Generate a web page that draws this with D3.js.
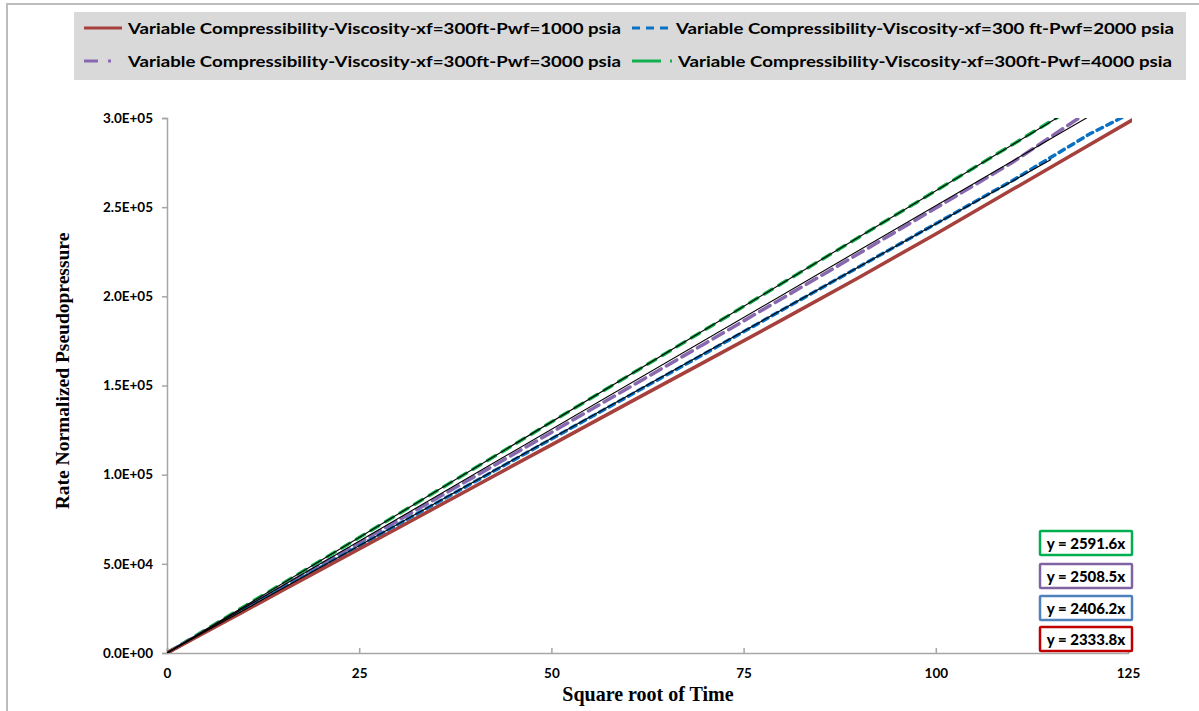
<!DOCTYPE html>
<html>
<head>
<meta charset="utf-8">
<script src="https://cdn.jsdelivr.net/npm/d3@7"></script>
<style>
  body { margin: 0; background: #fff; }
  svg { display: block; }
</style>
</head>
<body>
<div id="chart-container"></div>
<script>
// Square root of time sample points, shared by all series
const sqrtTime = [0, 2, 5, 10, 15, 20, 25, 30, 40, 50, 60, 70, 80, 90, 100, 110, 120, 130];

// Rate normalized pseudopressure, one array per bottomhole pressure
const pwf1000 = [0, 4600, 11600, 23300, 35000, 46700, 58300, 70000, 93400, 116700, 140100, 163400, 186800, 210600, 235000, 260000, 285000, 310000];
const pwf2000 = [0, 4800, 12000, 24000, 36000, 48000, 60000, 72000, 96000, 120000, 144000, 168000, 192300, 216500, 240700, 265000, 291000, 313000];
const pwf3000 = [0, 5000, 12400, 24800, 37200, 49500, 61800, 74200, 98900, 123700, 148600, 173600, 198800, 224000, 249500, 275200, 304000, 329000];
const pwf4000 = [0, 5200, 13000, 26000, 38900, 51800, 64700, 77700, 103600, 129500, 155400, 181300, 207300, 233200, 259200, 285200, 311300, 337000];

const seriesNames = [
    "Variable Compressibility-Viscosity-xf=300ft-Pwf=1000 psia",
    "Variable Compressibility-Viscosity-xf=300 ft-Pwf=2000 psia",
    "Variable Compressibility-Viscosity-xf=300ft-Pwf=3000 psia",
    "Variable Compressibility-Viscosity-xf=300ft-Pwf=4000 psia"
];

// Trendline slopes (through origin) and the x where each trendline stops
const trendSlopes = [2333.8, 2406.2, 2508.5, 2591.6];
const trendEnd = [null, 115, 122, 120];

const xTicks = [0, 25, 50, 75, 100, 125];
const yTicks = [0, 50000, 100000, 150000, 200000, 250000, 300000];

const colors = ["#a5403c", "#0a72c4", "#8868ae", "#12b04e"];
const boxColors = ["#c00000", "#4f81bd", "#8064a2", "#00b050"];
const dashes = [null, "6,5", "12,6", "9,8"];

const W = 1199, H = 711;
const margin = { left: 167, right: W - 1128, top: 118, bottom: H - 653 };

const svg = d3.select("#chart-container")
    .append("svg")
    .attr("width", W)
    .attr("height", H);

// outer frame lines
svg.append("path")
    .attr("d", `M7,711 L7,4 L1199,4`)
    .attr("fill", "none")
    .attr("stroke", "#bdbdbd")
    .attr("stroke-width", 2);

const x = d3.scaleLinear().domain([0, 125]).range([margin.left, W - margin.right]);
const y = d3.scaleLinear().domain([0, 300000]).range([H - margin.bottom, margin.top]);

svg.append("clipPath").attr("id", "plot-clip")
    .append("rect")
    .attr("x", x(0)).attr("y", y(300000))
    .attr("width", x(125) - x(0) + 4).attr("height", y(0) - y(300000));

// axes
const yAxis = svg.append("g")
    .attr("transform", `translate(${x(0)},0)`)
    .call(d3.axisLeft(y).tickValues(yTicks).tickSize(5).tickPadding(9)
        .tickFormat(d => d.toExponential(1).replace("e+", "E+0")));

const xAxis = svg.append("g")
    .attr("transform", `translate(0,${y(0)})`)
    .call(d3.axisBottom(x).tickValues(xTicks).tickSize(-5).tickPadding(14));

[xAxis, yAxis].forEach(g => {
    g.select(".domain").attr("stroke", "#a6a6a6").attr("stroke-width", 1.5);
    g.selectAll(".tick line").attr("stroke", "#a6a6a6").attr("stroke-width", 1.5);
    g.selectAll("text")
        .attr("font-family", "Lato, 'Open Sans', sans-serif")
        .attr("font-weight", "bold")
        .attr("font-size", 13.5)
        .attr("fill", "#000");
});
xAxis.selectAll(".tick text").attr("dy", "0.85em");

// series lines
const plot = svg.append("g").attr("clip-path", "url(#plot-clip)");
const allSeries = [pwf1000, pwf2000, pwf3000, pwf4000];

const line = d3.line()
    .x(d => x(d[0]))
    .y(d => y(d[1]));

[3, 2, 1, 0].forEach(i => {
    const pts = sqrtTime.map((t, k) => [t, allSeries[i][k]]);
    plot.append("path")
        .datum(pts)
        .attr("fill", "none")
        .attr("stroke", colors[i])
        .attr("stroke-width", 3.5)
        .attr("stroke-dasharray", dashes[i])
        .attr("stroke-linecap", i === 0 ? "butt" : "round")
        .attr("d", line);
});

// black trendlines
[1, 2, 3].forEach(i => {
    const pts = [[0, 0], [trendEnd[i], trendSlopes[i] * trendEnd[i]]];
    plot.append("path")
        .datum(pts)
        .attr("fill", "none")
        .attr("stroke", "#000")
        .attr("stroke-width", 1.1)
        .attr("d", line);
});

// trendline equation boxes
const boxOrder = [3, 2, 1, 0];
const boxTops = [531, 564, 596, 627];
boxOrder.forEach((i, k) => {
    const g = svg.append("g").attr("transform", `translate(1040,${boxTops[k]})`);
    g.append("rect")
        .attr("width", 92).attr("height", 24)
        .attr("fill", "#fff")
        .attr("stroke", boxColors[i])
        .attr("stroke-width", 2.5)
        .attr("rx", 1);
    g.append("text")
        .attr("x", 46).attr("y", 17.5)
        .attr("text-anchor", "middle")
        .attr("font-family", "Lato, 'Open Sans', sans-serif")
        .attr("font-weight", "900")
        .attr("font-size", 15)
        .text(`y = ${trendSlopes[i].toFixed(1)}x`);
});

// axis titles
svg.append("text")
    .attr("x", 648).attr("y", 701)
    .attr("text-anchor", "middle")
    .attr("font-family", "'Liberation Serif', 'Times New Roman', serif")
    .attr("font-weight", "bold")
    .attr("font-size", 20)
    .text("Square root of Time");

svg.append("text")
    .attr("transform", `translate(69,371) rotate(-90)`)
    .attr("text-anchor", "middle")
    .attr("font-family", "'Liberation Serif', 'Times New Roman', serif")
    .attr("font-weight", "bold")
    .attr("font-size", 19.5)
    .text("Rate Normalized Pseudopressure");

// legend
const legend = svg.append("g");
legend.append("rect")
    .attr("x", 74).attr("y", 12)
    .attr("width", 1112).attr("height", 68)
    .attr("fill", "#d9d9d9");

const legendPos = [[84, 28], [632, 28], [84, 61], [632, 61]];
const legendOrder = [0, 1, 2, 3];
legendOrder.forEach((i, k) => {
    const [lx, ly] = legendPos[k];
    const g = legend.append("g").attr("transform", `translate(${lx},${ly})`);
    if (i === 0) {
        g.append("line").attr("x1", 0).attr("x2", 38)
            .attr("stroke", colors[0]).attr("stroke-width", 3);
    } else if (i === 1) {
        g.append("line").attr("x1", 0).attr("x2", 37)
            .attr("stroke", colors[1]).attr("stroke-width", 3)
            .attr("stroke-dasharray", "8,6");
    } else if (i === 2) {
        g.append("line").attr("x1", 0).attr("x2", 14)
            .attr("stroke", colors[2]).attr("stroke-width", 3);
        g.append("line").attr("x1", 24).attr("x2", 27)
            .attr("stroke", colors[2]).attr("stroke-width", 3);
    } else {
        g.append("line").attr("x1", 0).attr("x2", 29)
            .attr("stroke", colors[3]).attr("stroke-width", 3);
        g.append("line").attr("x1", 38).attr("x2", 40)
            .attr("stroke", colors[3]).attr("stroke-width", 3);
    }
    g.append("text")
        .attr("x", i === 3 ? 46 : 44).attr("y", 6)
        .attr("font-family", "Lato, 'Open Sans', sans-serif")
        .attr("font-weight", "bold")
        .attr("font-size", 16)
        .attr("textLength", i === 3 ? 494 : (i === 1 ? 498 : 493))
        .attr("lengthAdjust", "spacingAndGlyphs")
        .text(seriesNames[i]);
});
</script>
</body>
</html>
